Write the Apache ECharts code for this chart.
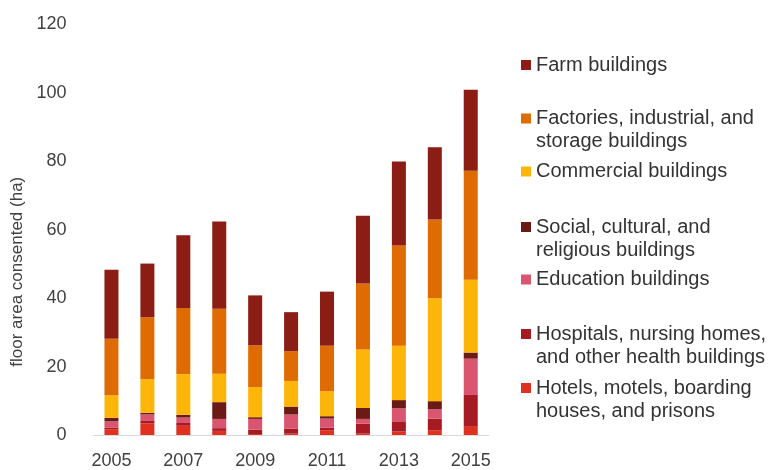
<!DOCTYPE html>
<html>
<head>
<meta charset="utf-8">
<script src="https://cdn.jsdelivr.net/npm/echarts@6/dist/echarts.min.js"></script>
<style>
  html, body { margin: 0; padding: 0; background: #fff; }
  #chart { width: 772px; height: 470px; }
</style>
</head>
<body>
<div id="chart"></div>
<script>
// Floor area consented by building type, hectares per year
const years = ['2005','2006','2007','2008','2009','2010','2011','2012','2013','2014','2015'];

const hotels      = [1.7, 3.4, 2.7, 1.2, 0.3, 0.4, 1.4, 0.4, 1.0, 1.4, 2.4];
const hospitals   = [0.5, 0.7, 0.8, 0.8, 1.3, 1.5, 0.7, 2.9, 3.0, 3.4, 9.3];
const education   = [1.8, 1.9, 1.6, 2.7, 3.1, 4.1, 2.7, 1.4, 3.8, 2.7, 10.6];
const social      = [1.0, 0.5, 0.8, 4.9, 0.5, 2.3, 0.7, 3.2, 2.4, 2.4, 1.8];
const commercial  = [6.6, 9.8, 11.9, 8.3, 8.8, 7.5, 7.3, 17.1, 15.9, 30.1, 21.3];
const factories   = [16.5, 18.1, 19.3, 19.0, 12.2, 8.7, 13.3, 19.3, 29.3, 23.0, 31.8];
const farm        = [20.2, 15.7, 21.3, 25.5, 14.6, 11.4, 15.8, 19.8, 24.5, 21.1, 23.7];

const yTicks = { min: 0, max: 120, interval: 20 };

// Stack order bottom to top
const seriesDefs = [
  { name: 'Hotels, motels, boarding houses, and prisons', lines: ['Hotels, motels, boarding', 'houses, and prisons'], data: hotels, color: '#E0301F' },
  { name: 'Hospitals, nursing homes, and other health buildings', lines: ['Hospitals, nursing homes,', 'and other health buildings'], data: hospitals, color: '#A61B23' },
  { name: 'Education buildings', lines: ['Education buildings'], data: education, color: '#DA5670' },
  { name: 'Social, cultural, and religious buildings', lines: ['Social, cultural, and', 'religious buildings'], data: social, color: '#6B1B15' },
  { name: 'Commercial buildings', lines: ['Commercial buildings'], data: commercial, color: '#FDB50A' },
  { name: 'Factories, industrial, and storage buildings', lines: ['Factories, industrial, and', 'storage buildings'], data: factories, color: '#DE6C02' },
  { name: 'Farm buildings', lines: ['Farm buildings'], data: farm, color: '#8B1D14' }
];

// Legend icon centres (top of list = top of stack)
const legendCentres = {
  'Farm buildings': 65,
  'Factories, industrial, and storage buildings': 118.5,
  'Commercial buildings': 171.5,
  'Social, cultural, and religious buildings': 227,
  'Education buildings': 279.5,
  'Hospitals, nursing homes, and other health buildings': 334,
  'Hotels, motels, boarding houses, and prisons': 388
};

const FONT = 'Liberation Sans, Arial, sans-serif';
const LEGEND_FS = 20;
const LEGEND_LH = 23;

// Legend text is centred on its icon, so blank lines are added above
// multi-line labels to keep the icon level with the first line.
const legends = seriesDefs.map(s => {
  const n = s.lines.length;
  const blanks = new Array(n - 1).fill(' ');
  const text = blanks.concat(s.lines).join('\n');
  const boxH = (2 * n - 1) * LEGEND_LH;
  return {
    data: [s.name],
    left: 521,
    top: legendCentres[s.name] - boxH / 2,
    orient: 'vertical',
    itemWidth: 10,
    itemHeight: 10,
    itemGap: 0,
    padding: 0,
    icon: 'rect',
    selectedMode: false,
    formatter: () => text,
    textStyle: {
      fontFamily: FONT,
      fontSize: LEGEND_FS,
      lineHeight: LEGEND_LH,
      color: '#333'
    }
  };
});

const chart = echarts.init(document.getElementById('chart'), null, { renderer: 'canvas' });

chart.setOption({
  animation: false,
  backgroundColor: '#fff',
  grid: { left: 93.5, right: 283.3, top: 24.4, bottom: 32.7 },
  legend: legends,
  xAxis: {
    type: 'category',
    data: years,
    axisLine: { lineStyle: { color: '#d9d9d9', width: 1 } },
    axisTick: { show: false },
    axisLabel: { interval: 1, color: '#404040', fontFamily: FONT, fontSize: 18, margin: 17 }
  },
  yAxis: {
    type: 'value',
    min: yTicks.min,
    max: yTicks.max,
    interval: yTicks.interval,
    splitLine: { show: false },
    axisLine: { show: false },
    axisTick: { show: false },
    axisLabel: { color: '#404040', fontFamily: FONT, fontSize: 18, margin: 27 },
    name: 'floor area consented (ha)',
    nameLocation: 'middle',
    nameGap: 59,
    nameTextStyle: { color: '#404040', fontFamily: FONT, fontSize: 17, padding: [0, 0, 0, -84] }
  },
  series: seriesDefs.map(s => ({
    name: s.name,
    type: 'bar',
    stack: 'area',
    barWidth: '39%',
    data: s.data,
    itemStyle: { color: s.color }
  }))
});
</script>
</body>
</html>
